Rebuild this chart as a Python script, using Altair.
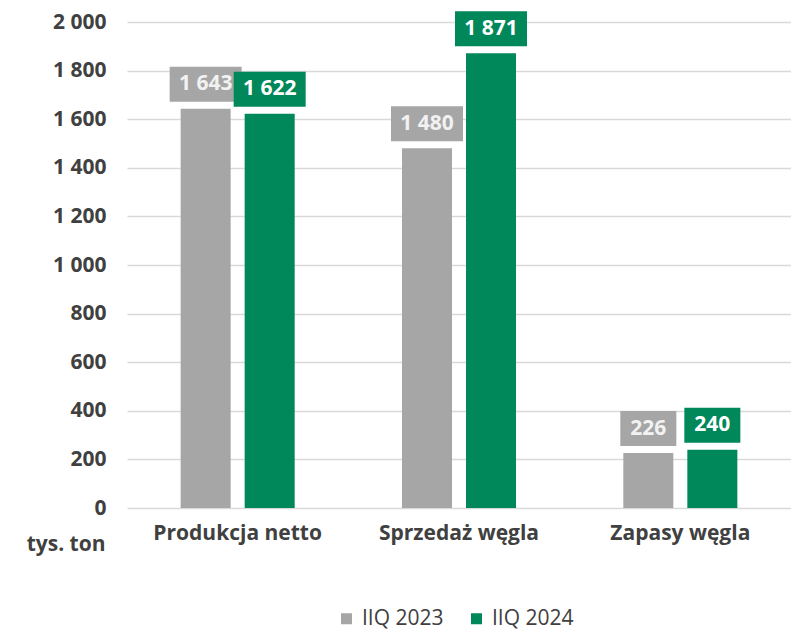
import altair as alt
import pandas as pd

categories = ["Produkcja netto", "Sprzedaż węgla", "Zapasy węgla"]
series_names = ["IIQ 2023", "IIQ 2024"]
values_2023 = [1643, 1480, 226]
values_2024 = [1622, 1871, 240]
y_ticks = [0, 200, 400, 600, 800, 1000, 1200, 1400, 1600, 1800, 2000]

rows = []
for c, a, b in zip(categories, values_2023, values_2024):
    rows.append({"cat": c, "series": series_names[0], "value": a})
    rows.append({"cat": c, "series": series_names[1], "value": b})
df = pd.DataFrame(rows)
df["label"] = df["value"].map(lambda v: f"{v:,}".replace(",", " "))

FONT = "Open Sans"
GRAY = "#a6a6a6"
GREEN = "#00875a"
TXT = "#404040"

x_enc = alt.X("cat:N", sort=categories, title=None,
              scale=alt.Scale(paddingInner=0, paddingOuter=0),
              axis=alt.Axis(labelAngle=0, labelFont=FONT, labelFontSize=21,
                            labelFontWeight="bold", labelColor=TXT,
                            labelPadding=14, domain=False, ticks=False, grid=False))
xo_enc = alt.XOffset("series:N", sort=series_names,
                     scale=alt.Scale(paddingInner=0.21875, paddingOuter=0.838))
y_enc = alt.Y("value:Q",
              scale=alt.Scale(domain=[0, 2000], nice=False),
              axis=alt.Axis(values=y_ticks, labelFont=FONT, labelFontSize=21,
                            labelFontWeight="bold", labelColor=TXT,
                            labelPadding=21, domain=False, ticks=False,
                            gridColor="#d9d9d9", gridWidth=1.5,
                            labelExpr="replace(format(datum.value, ','), regexp(',', 'g'), ' ')",
                            title="tys. ton", titleAngle=0, titleAlign="right",
                            titleBaseline="alphabetic", titleX=-22, titleY=528,
                            titleFont=FONT, titleFontSize=21, titleFontWeight="bold",
                            titleColor=TXT))

base = alt.Chart(df)

bars = base.mark_bar().encode(
    x=x_enc, xOffset=xo_enc, y=y_enc,
    color=alt.Color("series:N", sort=series_names,
                    scale=alt.Scale(domain=series_names, range=[GRAY, GREEN]),
                    legend=alt.Legend(title=None, orient="none", legendX=209, legendY=586,
                                      direction="horizontal", symbolType="square",
                                      symbolSize=121, symbolStrokeWidth=0,
                                      labelFont=FONT, labelFontSize=21,
                                      labelColor=TXT, labelOffset=5,
                                      columnPadding=22)),
)

boxes = base.mark_bar(yOffset=-7, y2Offset=-42).transform_calculate(
    bw="length(datum.label) * 8 + 32"
).encode(
    x=x_enc, xOffset=xo_enc, y=y_enc, y2=alt.Y2("value:Q"),
    size=alt.Size("bw:Q", scale=None, legend=None),
    color=alt.Color("series:N", sort=series_names,
                    scale=alt.Scale(domain=series_names, range=[GRAY, GREEN]),
                    legend=None),
)

texts = base.mark_text(dy=-24.5, baseline="middle", align="center", font=FONT,
                       fontSize=21, fontWeight="bold").encode(
    x=x_enc, xOffset=xo_enc, y=y_enc, text="label:N",
    color=alt.condition("datum.series == 'IIQ 2023'", alt.value("#f2f2f2"), alt.value("#ffffff")),
)

chart = alt.layer(bars, boxes, texts).properties(
    width=664, height=486,
    autosize=alt.AutoSizeParams(type="none"),
    padding={"left": 119, "top": 14, "right": 0, "bottom": 124},
).configure_view(stroke=None)

chart.save("out.html", embed_options={"renderer": "svg", "actions": False})
